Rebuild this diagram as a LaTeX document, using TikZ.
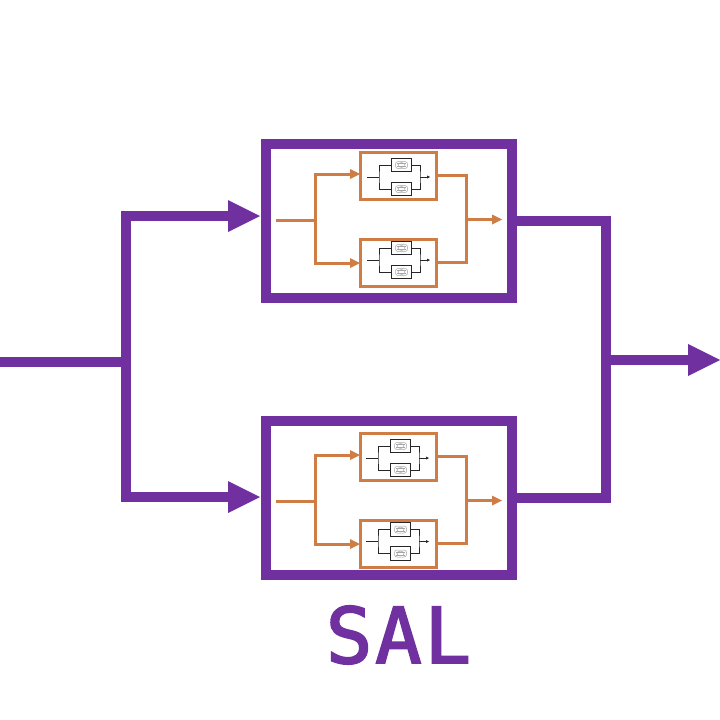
\documentclass[tikz,border=0pt]{standalone}
\usepackage{fontspec}
\setmonofont{DejaVu Sans Mono}[FakeBold=2.5]
\usetikzlibrary{arrows.meta}
\definecolor{sal}{HTML}{7030A0}
\definecolor{org}{HTML}{D07C45}
\tikzset{
  x=1pt,y=-1pt,
  outerbox/.style={draw=sal,line width=10pt,minimum width=246pt,minimum height=154pt,inner sep=0pt,outer sep=0pt},
  midbox/.style={draw=org,line width=3pt,minimum width=76pt,minimum height=47pt,inner sep=0pt,outer sep=0pt},
  tinybox/.style={draw=black!85,line width=.9pt,minimum width=20.5pt,minimum height=13.5pt,inner sep=0pt,outer sep=0pt},
  bigline/.style={draw=sal,line width=10pt,line join=miter},
  bigarrow/.style={bigline,-{Triangle[length=32pt,width=32pt,line width=0pt]}},
  midline/.style={draw=org,line width=3pt,line join=miter},
  midarrow/.style={midline,-{Triangle[length=10pt,width=10pt,line width=0pt]}},
  tinyline/.style={draw=black!85,line width=.8pt},
  tinyarrow/.style={tinyline,-{Triangle[length=3pt,width=3pt,line width=0pt]}},
  detail/.style={draw=black!35,line width=.5pt},
}
\newcommand{\tinyunit}[3]{%
  \begin{scope}[shift={(#2,#3)}]
    \node[tinybox] (#1a) at (3.5,-12) {};
    \node[tinybox] (#1b) at (3.5,12) {};
    \coordinate (#1in) at (-31,0);
    \coordinate (#1j) at (-19,0);
    \coordinate (#1k) at (22,0);
    \coordinate (#1out) at (32,0);
    \draw[tinyline] (#1in) -- (#1j);
    \draw[tinyline] (#1a.west) -| (#1j) |- (#1b.west);
    \draw[tinyline] (#1a.east) -| (#1k) |- (#1b.east);
    \draw[tinyarrow] (#1k) -- (#1out);
    \foreach \yy in {-12,12}{
      \draw[detail,rounded corners=2.5pt] (-2.5,\yy-3.5) rectangle (9.5,\yy+3.5);
      \draw[detail] (3.5,\yy) ellipse [x radius=3.6pt,y radius=2.4pt];
      \draw[detail] (-1,\yy-1.5) -- (8,\yy-1.5) (-1,\yy+1.5) -- (8,\yy+1.5);
    }
  \end{scope}}
% #1 prefix, #2 arrow y upper, #3 arrow y lower, #4 upper box cy, #5 lower box cy, #6 input y, #7 output y
\newcommand{\innernet}[7]{%
  \node[midbox] (#1u) at (398,#4) {};
  \node[midbox] (#1l) at (398,#5) {};
  \coordinate (#1s) at (276,#6);
  \coordinate (#1j) at (315,#6);
  \coordinate (#1m) at (466,#7);
  \coordinate (#1t) at (502,#7);
  \coordinate (#1ua) at (#1u.west |- 0,#2);
  \coordinate (#1la) at (#1l.west |- 0,#3);
  \draw[midline] (#1s) -- (#1j);
  \draw[midarrow] (#1j) |- (#1ua);
  \draw[midarrow] (#1j) |- (#1la);
  \draw[midline] (#1u.east) -| (#1m) |- (#1l.east);
  \draw[midarrow] (#1m) -- (#1t);
}
\begin{document}
\begin{tikzpicture}
\useasboundingbox (0,0) rectangle (720,720);
\node[outerbox] (top) at (389,221) {};
\node[outerbox] (bot) at (389,498) {};
\coordinate (src) at (0,361.5);
\coordinate (fork) at (126,361.5);
\coordinate (sink) at (720,360);
\coordinate (merge) at (606,360);
\coordinate (toptip) at (260,216);
\coordinate (bottip) at (260,497);
\draw[bigline] (src) -- (fork);
\draw[bigarrow] (fork) |- (toptip);
\draw[bigarrow] (fork) |- (bottip);
\draw[bigline] (top.east) -| (merge) |- (bot.east);
\draw[bigarrow] (merge) -- (sink);
\innernet{p}{174}{263}{175.5}{262.5}{220}{219.5}
\innernet{q}{455}{544}{456.5}{543.5}{501}{500.5}
\tinyunit{pa}{398}{177}
\tinyunit{pb}{398}{260}
\tinyunit{qa}{397}{458}
\tinyunit{qb}{397}{541.5}
\node[font=\ttfamily\fontsize{77}{77}\selectfont,text=sal,inner sep=0pt,anchor=base] (title) at (398.5,663) {S\kern3pt A\kern3pt L};
\end{tikzpicture}
\end{document}
